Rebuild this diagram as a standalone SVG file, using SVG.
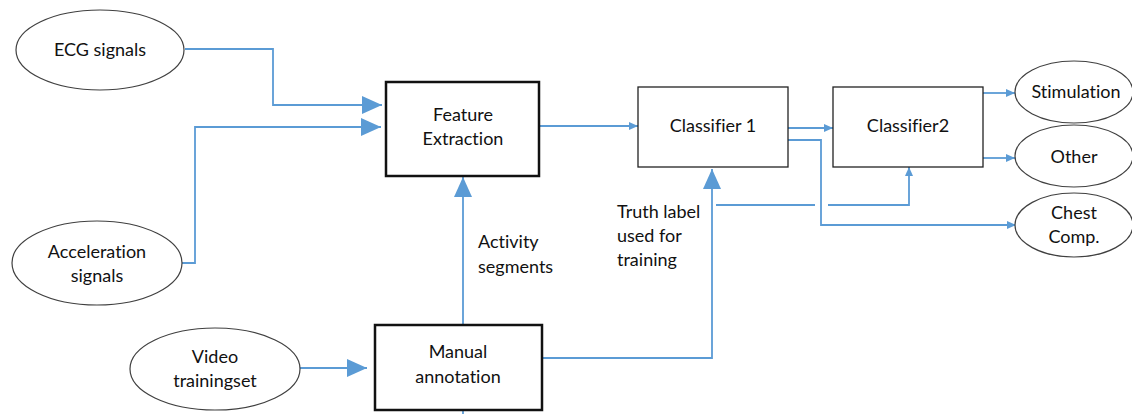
<svg xmlns="http://www.w3.org/2000/svg" width="1132" height="414" viewBox="0 0 1132 414">
<style>
.el{fill:#fff;stroke:#404040;stroke-width:1.2}
.bx{fill:#fff;stroke:#111;stroke-width:2.5}
.bt{fill:#fff;stroke:#222;stroke-width:1.3}
.t{font-family:Lato,"Open Sans",sans-serif;font-size:18px;fill:#111;font-variant-ligatures:none}
.c{fill:none;stroke:#5b9bd5;stroke-width:1.8}
</style>
<defs>
<marker id="big" markerUnits="userSpaceOnUse" markerWidth="20" markerHeight="20" viewBox="0 0 20 20" refX="20" refY="10" orient="auto"><path d="M0,1 L20,10 L0,19 Z" fill="#5b9bd5"/></marker>
<marker id="sm" markerUnits="userSpaceOnUse" markerWidth="9" markerHeight="8" viewBox="0 0 9 8" refX="9" refY="4" orient="auto"><path d="M0,0 L9,4 L0,8 Z" fill="#5b9bd5"/></marker>
</defs>
<g id="connectors">
<path class="c" d="M185,49 H273 V105 H382" marker-end="url(#big)"/>
<path class="c" d="M182,263 H195 V127 H381" marker-end="url(#big)"/>
<path class="c" d="M300,368 H367" marker-end="url(#big)"/>
<path class="c" d="M463,325 V177" marker-end="url(#big)"/>
<path class="c" d="M463,410 V414"/>
<path class="c" d="M539,126 H638" marker-end="url(#sm)"/>
<path class="c" d="M542,358 H712 V169" marker-end="url(#big)"/>
<path class="c" d="M788,128 H833" marker-end="url(#sm)"/>
<path class="c" d="M788,140 H821 V225 H1016" marker-end="url(#sm)"/>
<path class="c" d="M716,205 H815"/>
<path class="c" d="M828,205 H909 V167" marker-end="url(#sm)"/>
<path class="c" d="M983,93 H1015" marker-end="url(#sm)"/>
<path class="c" d="M983,158 H1015" marker-end="url(#sm)"/>
</g>
<g id="ecg"><ellipse class="el" cx="100" cy="50" rx="84" ry="40"/><text class="t" x="100" y="56" text-anchor="middle">ECG signals</text></g>
<g id="accel"><ellipse class="el" cx="97" cy="263" rx="85" ry="42"/><text class="t" x="97" y="258" text-anchor="middle">Acceleration</text><text class="t" x="97" y="282" text-anchor="middle">signals</text></g>
<g id="video"><ellipse class="el" cx="215" cy="369" rx="85" ry="41"/><text class="t" x="215" y="363" text-anchor="middle">Video</text><text class="t" x="215" y="387" text-anchor="middle">trainingset</text></g>
<g id="feature"><rect class="bx" x="386" y="82" width="153" height="94"/><text class="t" x="463" y="121" text-anchor="middle">Feature</text><text class="t" x="463" y="145" text-anchor="middle">Extraction</text></g>
<g id="manual"><rect class="bx" x="375" y="325" width="167" height="85"/><text class="t" x="458" y="358" text-anchor="middle">Manual</text><text class="t" x="458" y="383" text-anchor="middle">annotation</text></g>
<g id="classifier1"><rect class="bt" x="638" y="87" width="150" height="80"/><text class="t" x="713" y="132" text-anchor="middle">Classifier 1</text></g>
<g id="classifier2"><rect class="bt" x="833" y="87" width="150" height="80"/><text class="t" x="908" y="132" text-anchor="middle">Classifier2</text></g>
<g id="stimulation"><ellipse class="el" cx="1074" cy="92" rx="59" ry="31"/><text class="t" x="1076" y="98" text-anchor="middle">Stimulation</text></g>
<g id="other"><ellipse class="el" cx="1074" cy="156" rx="59" ry="31"/><text class="t" x="1074" y="163" text-anchor="middle">Other</text></g>
<g id="chest"><ellipse class="el" cx="1074" cy="225" rx="59" ry="32"/><text class="t" x="1074" y="219" text-anchor="middle">Chest</text><text class="t" x="1074" y="243" text-anchor="middle">Comp.</text></g>
<g id="labels">
<text class="t" x="478" y="248">Activity</text><text class="t" x="478" y="273">segments</text>
<text class="t" x="617" y="218">Truth label</text><text class="t" x="617" y="242">used for</text><text class="t" x="617" y="266">training</text>
</g>
</svg>
